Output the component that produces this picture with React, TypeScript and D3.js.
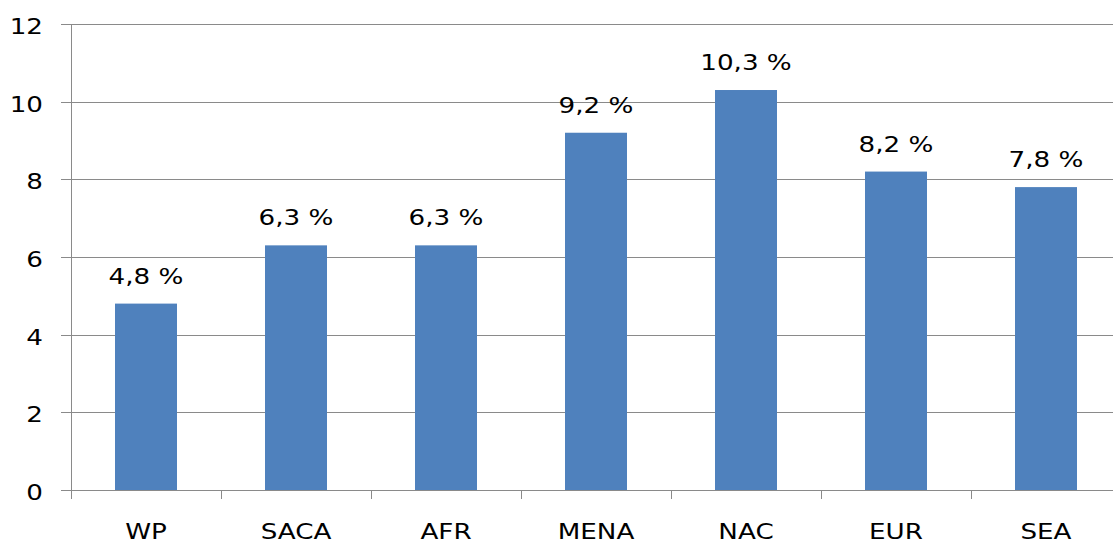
import React from "react";
import * as d3 from "d3";

const categories = ["WP", "SACA", "AFR", "MENA", "NAC", "EUR", "SEA"];
const values = [4.8, 6.3, 6.3, 9.2, 10.3, 8.2, 7.8];
const valueLabels = ["4,8 %", "6,3 %", "6,3 %", "9,2 %", "10,3 %", "8,2 %", "7,8 %"];
const yTicks = [0, 2, 4, 6, 8, 10, 12];

const W = 1113;
const H = 545;
const axisX = 71;
const top = 24;
const bottom = 490;
const FONT = "'DejaVu Sans', sans-serif";
const SX = 1.19;

export default function App() {
  const y = d3.scaleLinear().domain([0, 12]).range([bottom, top]);
  const x = d3
    .scaleBand<string>()
    .domain(categories)
    .range([axisX, axisX + 150 * categories.length])
    .paddingInner(0.5867)
    .paddingOuter(0.29335);
  const step = x.step();
  const boundaries = d3.range(categories.length + 1).map((i) => axisX + i * step);

  const stretched = (cx: number, cy: number, txt: string, anchor: string, key: string) => (
    <text
      key={key}
      transform={`translate(${cx},${cy}) scale(${SX},1)`}
      textAnchor={anchor}
      fontFamily={FONT}
      fontSize={22}
      fill="#000"
    >
      {txt}
    </text>
  );

  return (
    <svg
      width={W}
      height={H}
      style={{ position: "absolute", left: 0, top: 0, background: "#fff" }}
    >
      <rect x={0} y={0} width={W} height={H} fill="#fff" />
      {yTicks.map((t) => (
        <line
          key={"g" + t}
          x1={61}
          x2={W}
          y1={Math.round(y(t)) + 0.5}
          y2={Math.round(y(t)) + 0.5}
          stroke="#8a8a8a"
          strokeWidth={1}
        />
      ))}
      {categories.map((c, i) => (
        <rect
          key={"b" + c}
          x={x(c)}
          y={y(values[i])}
          width={x.bandwidth()}
          height={bottom - y(values[i])}
          fill="#4F81BD"
        />
      ))}
      <line x1={axisX + 0.5} x2={axisX + 0.5} y1={top} y2={bottom + 9} stroke="#8a8a8a" strokeWidth={1} />
      <line x1={61} x2={W} y1={bottom + 0.5} y2={bottom + 0.5} stroke="#8a8a8a" strokeWidth={1} />
      {boundaries.map((bx, i) => (
        <line
          key={"t" + i}
          x1={Math.round(bx) + 0.5}
          x2={Math.round(bx) + 0.5}
          y1={bottom}
          y2={bottom + 9}
          stroke="#8a8a8a"
          strokeWidth={1}
        />
      ))}
      {yTicks.map((t) => stretched(43, y(t) + 10, String(t), "end", "yl" + t))}
      {categories.map((c) => stretched((x(c) as number) + x.bandwidth() / 2, 539, c, "middle", "xl" + c))}
      {categories.map((c, i) =>
        stretched((x(c) as number) + x.bandwidth() / 2, y(values[i]) - 20, valueLabels[i], "middle", "vl" + c)
      )}
    </svg>
  );
}
